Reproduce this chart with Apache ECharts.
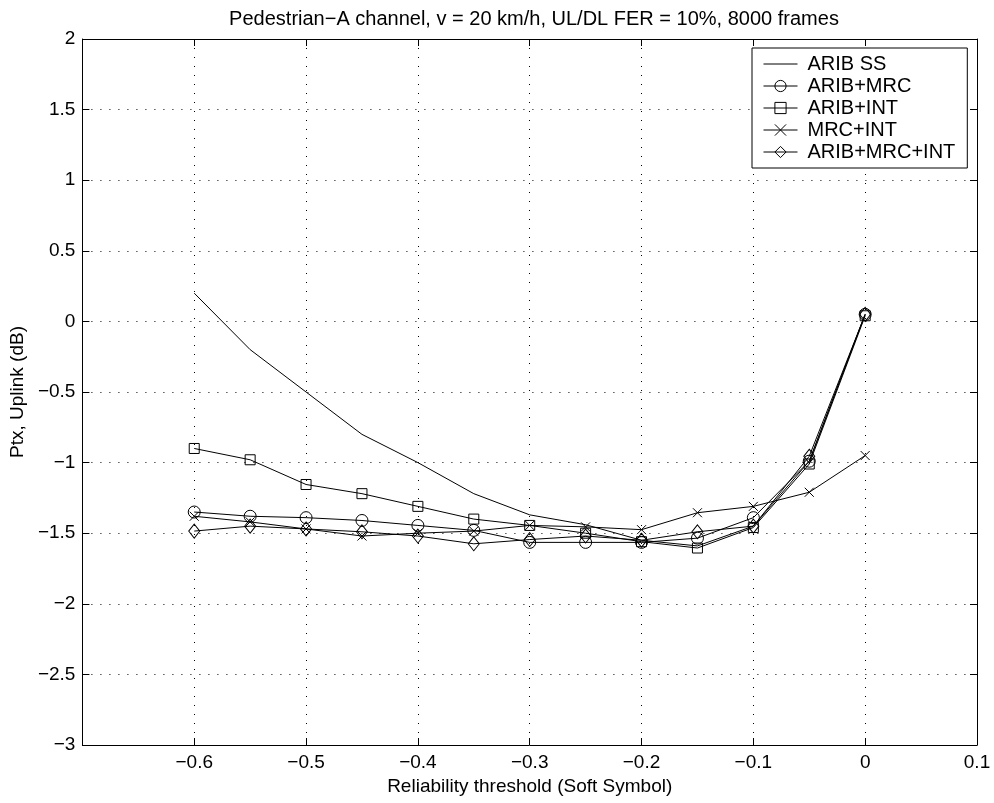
<!DOCTYPE html>
<html><head><meta charset="utf-8">
<script src="https://cdn.jsdelivr.net/npm/echarts@6/dist/echarts.min.js"></script>
<style>html,body{margin:0;padding:0;background:#fff}#c{width:994px;height:803px}</style>
</head><body><div id="c"></div>
<script>
const thresholds = [-0.6,-0.55,-0.5,-0.45,-0.4,-0.35,-0.3,-0.25,-0.2,-0.15,-0.1,-0.05,0];
const aribSS     = [0.2,-0.2,-0.5,-0.8,-1.0,-1.22,-1.37,-1.44,-1.55,-1.59,-1.45,-0.99,0.05];
const aribMRC    = [-1.35,-1.38,-1.39,-1.41,-1.445,-1.48,-1.565,-1.565,-1.565,-1.535,-1.39,-0.99,0.05];
const aribINT    = [-0.9,-0.98,-1.155,-1.22,-1.31,-1.40,-1.445,-1.5,-1.56,-1.605,-1.46,-1.01,0.04];
const mrcINT     = [-1.38,-1.42,-1.47,-1.52,-1.50,-1.485,-1.445,-1.455,-1.475,-1.355,-1.31,-1.21,-0.95];
const aribMRCINT = [-1.485,-1.45,-1.47,-1.49,-1.52,-1.575,-1.545,-1.52,-1.55,-1.49,-1.45,-0.955,0.05];
const seriesNames = ['ARIB SS','ARIB+MRC','ARIB+INT','MRC+INT','ARIB+MRC+INT'];
const titleText = 'Pedestrian\u2212A channel, v = 20 km/h, UL/DL FER = 10%, 8000 frames';
const xLabel = 'Reliability threshold (Soft Symbol)';
const yLabel = 'Ptx, Uplink (dB)';

const FONT = 'Liberation Sans, Arial, sans-serif';
const FS = 19;
function fmt(v){ const r = Math.round(v*10)/10; return String(r).replace('-', '\u2212'); }
function pairs(ys){ return thresholds.map((x,i)=>[x, ys[i]]); }
const crossPath = 'path://M0,0L10,10M10,0L0,10';
const symbols = ['circle','circle','rect',crossPath,'diamond'];
const sizes = [0,12,10,9,[11,14]];
const data = [aribSS, aribMRC, aribINT, mrcINT, aribMRCINT];

const chart = echarts.init(document.getElementById('c'), null, {renderer:'canvas'});
const axisCommon = {
  axisLine:{show:true, onZero:false, lineStyle:{color:'#000', width:1}},
  axisTick:{show:true, inside:true, length:7, lineStyle:{color:'#000'}},
};
const grid = {show:true, lineStyle:{color:'#000', type:[1,8], width:1}};
chart.setOption({
  animation:false,
  backgroundColor:'#fff',
  title:{text:titleText, left:529, top:4, textAlign:'center',
    textStyle:{fontFamily:FONT, fontSize:20, fontWeight:'normal', color:'#000'}},
  grid:{left:81, right:17, top:39, bottom:58, containLabel:false},
  legend:{
    orient:'vertical', left:752, top:48,
    data: seriesNames.map((n,i)=> i===0
      ? {name:n, itemStyle:{color:'transparent', borderColor:'transparent', borderWidth:0}}
      : {name:n}),
    backgroundColor:'#fff', borderColor:'#000', borderWidth:1,
    padding:[6,12,6,11], itemWidth:34, itemHeight:14, itemGap:2,
    textStyle:{fontFamily:FONT, fontSize:20, color:'#000', lineHeight:20, padding:[0,0,0,5]},
    lineStyle:{width:1, color:'#000'},
    itemStyle:{color:'transparent', borderColor:'#000', borderWidth:1}
  },
  xAxis:[{
    type:'value', min:-0.7, max:0.1, interval:0.1, position:'bottom',
    ...axisCommon,
    axisLabel:{fontFamily:FONT, fontSize:FS, color:'#000', margin:8,
      formatter:v => (Math.abs(v+0.7)<1e-6 ? '' : fmt(v))},
    splitLine:grid,
    name:xLabel, nameLocation:'middle', nameGap:32,
    nameTextStyle:{fontFamily:FONT, fontSize:FS, color:'#000'}
  },{
    type:'value', min:-0.7, max:0.1, interval:0.1, position:'top',
    ...axisCommon, axisLabel:{show:false}, splitLine:{show:false}
  }],
  yAxis:[{
    type:'value', min:-3, max:2, interval:0.5, position:'left',
    ...axisCommon,
    axisLabel:{fontFamily:FONT, fontSize:FS, color:'#000', margin:7, formatter:fmt},
    splitLine:grid,
    name:yLabel, nameLocation:'middle', nameGap:49,
    nameTextStyle:{fontFamily:FONT, fontSize:FS, color:'#000'}
  },{
    type:'value', min:-3, max:2, interval:0.5, position:'right',
    ...axisCommon, axisLabel:{show:false}, splitLine:{show:false}
  }],
  series: seriesNames.map((n,i)=>({
    name:n, type:'line', data:pairs(data[i]),
    symbol:symbols[i], symbolSize:sizes[i], showSymbol:i>0,
    lineStyle:{color:'#000', width:1},
    itemStyle:{color:'transparent', borderColor:'#000', borderWidth:1},
    emphasis:{disabled:true}
  }))
});
</script></body></html>
